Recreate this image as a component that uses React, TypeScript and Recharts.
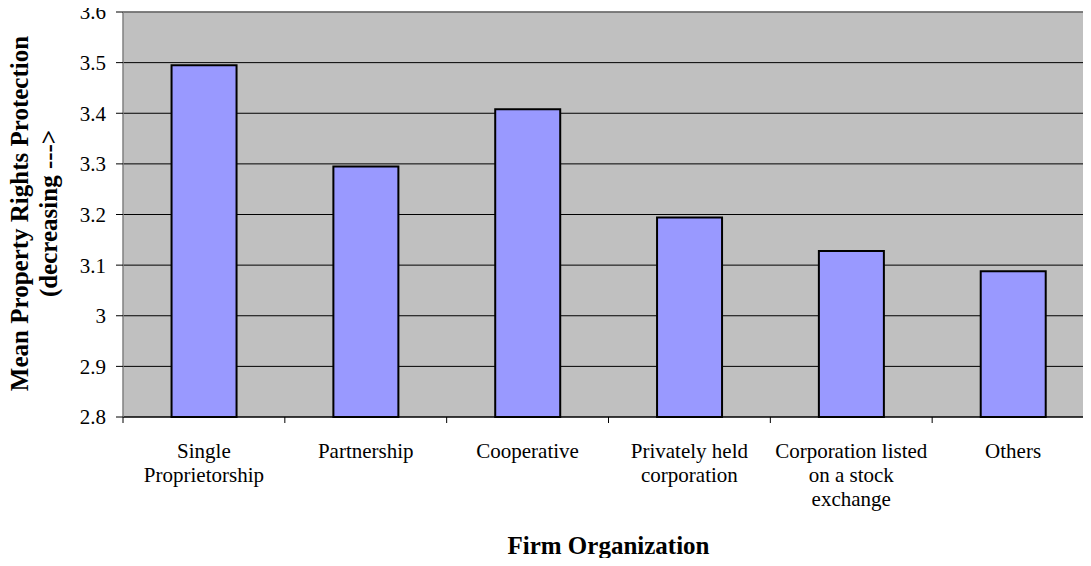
import React from "react";
import { BarChart, Bar, XAxis, YAxis, CartesianGrid, ReferenceLine, Label } from "recharts";

const categories = [
  "Single Proprietorship",
  "Partnership",
  "Cooperative",
  "Privately held corporation",
  "Corporation listed on a stock exchange",
  "Others",
];
const tickLabelLines = [
  ["Single", "Proprietorship"],
  ["Partnership"],
  ["Cooperative"],
  ["Privately held", "corporation"],
  ["Corporation listed", "on a stock", "exchange"],
  ["Others"],
];
const meanValues = [3.495, 3.295, 3.408, 3.194, 3.128, 3.088];
const yTicks = [2.8, 2.9, 3, 3.1, 3.2, 3.3, 3.4, 3.5, 3.6];
const yTitleLines = ["Mean Property Rights Protection", "(decreasing --->"];
const xTitle = "Firm Organization";

const data = categories.map((c, i) => ({ name: c, value: meanValues[i], idx: i }));

const CHART_W = 1094;
const CHART_H = 566;
const Y_AXIS_W = 123;
const MARGIN = { top: 12, right: 0, left: 0, bottom: 0 };
const PLOT_BOTTOM = 417;
const PLOT_W = CHART_W - Y_AXIS_W - MARGIN.left - MARGIN.right;
const BAND = PLOT_W / categories.length;
const FONT = "Liberation Serif";

const XTick = (props: any) => {
  const { x, y, index } = props;
  const lines = tickLabelLines[index] || [];
  const isLast = index === categories.length - 1;
  return (
    <g>
      <line x1={x - BAND / 2} x2={x - BAND / 2} y1={y} y2={y + 6} stroke="#000" strokeWidth={1} />
      {isLast && (
        <line x1={x + BAND / 2} x2={x + BAND / 2} y1={y} y2={y + 6} stroke="#000" strokeWidth={1} />
      )}
      <text x={x} y={y + 41} textAnchor="middle" fontFamily={FONT} fontSize={21} fill="#000">
        {lines.map((l, i) => (
          <tspan key={i} x={x} dy={i === 0 ? 0 : 24}>
            {l}
          </tspan>
        ))}
      </text>
    </g>
  );
};

const YTitle = (props: any) => {
  const vb = props.viewBox || { x: 0, y: 0, width: 0, height: 0 };
  const cx = vb.x + 28;
  const cy = vb.y + vb.height / 2 - 1;
  return (
    <text
      x={cx}
      y={cy}
      transform={`rotate(-90 ${cx} ${cy})`}
      textAnchor="middle"
      fontFamily={FONT}
      fontSize={25}
      fontWeight="bold"
      fill="#000"
    >
      {yTitleLines.map((l, i) => (
        <tspan key={i} x={cx} dy={i === 0 ? 0 : 29}>
          {l}
        </tspan>
      ))}
    </text>
  );
};

const XTitle = (props: any) => {
  const vb = props.viewBox || { x: 0, y: 0, width: 0, height: 0 };
  const cx = vb.x + vb.width / 2;
  return (
    <text x={cx} y={vb.y + 137} textAnchor="middle" fontFamily={FONT} fontSize={25} fontWeight="bold" fill="#000">
      {xTitle}
    </text>
  );
};

export default function App() {
  return (
    <div style={{ margin: -8, width: 1091, height: CHART_H, overflow: "hidden", background: "#fff" }}>
      <BarChart width={CHART_W} height={CHART_H} data={data} margin={MARGIN} barCategoryGap="30%">
        <CartesianGrid fill="#C0C0C0" stroke="#000" vertical={false} />
        <ReferenceLine y={3.6} stroke="#808080" strokeWidth={1.5} ifOverflow="extendDomain" />
        <XAxis
          dataKey="name"
          interval={0}
          height={CHART_H - PLOT_BOTTOM - MARGIN.bottom}
          tickSize={0}
          tickMargin={0}
          tickLine={false}
          axisLine={{ stroke: "#000", strokeWidth: 1 }}
          tick={<XTick />}
        >
          <Label content={<XTitle />} />
        </XAxis>
        <YAxis
          width={Y_AXIS_W}
          domain={[2.8, 3.6]}
          ticks={yTicks}
          interval={0}
          tickSize={7}
          tickMargin={10}
          tickLine={{ stroke: "#000" }}
          axisLine={{ stroke: "#808080", strokeWidth: 1.5 }}
          tick={{ fontFamily: FONT, fontSize: 21, fill: "#000" }}
        >
          <Label content={<YTitle />} />
        </YAxis>
        <Bar dataKey="value" fill="#9999FF" stroke="#000" strokeWidth={2} isAnimationActive={false} />
      </BarChart>
    </div>
  );
}
